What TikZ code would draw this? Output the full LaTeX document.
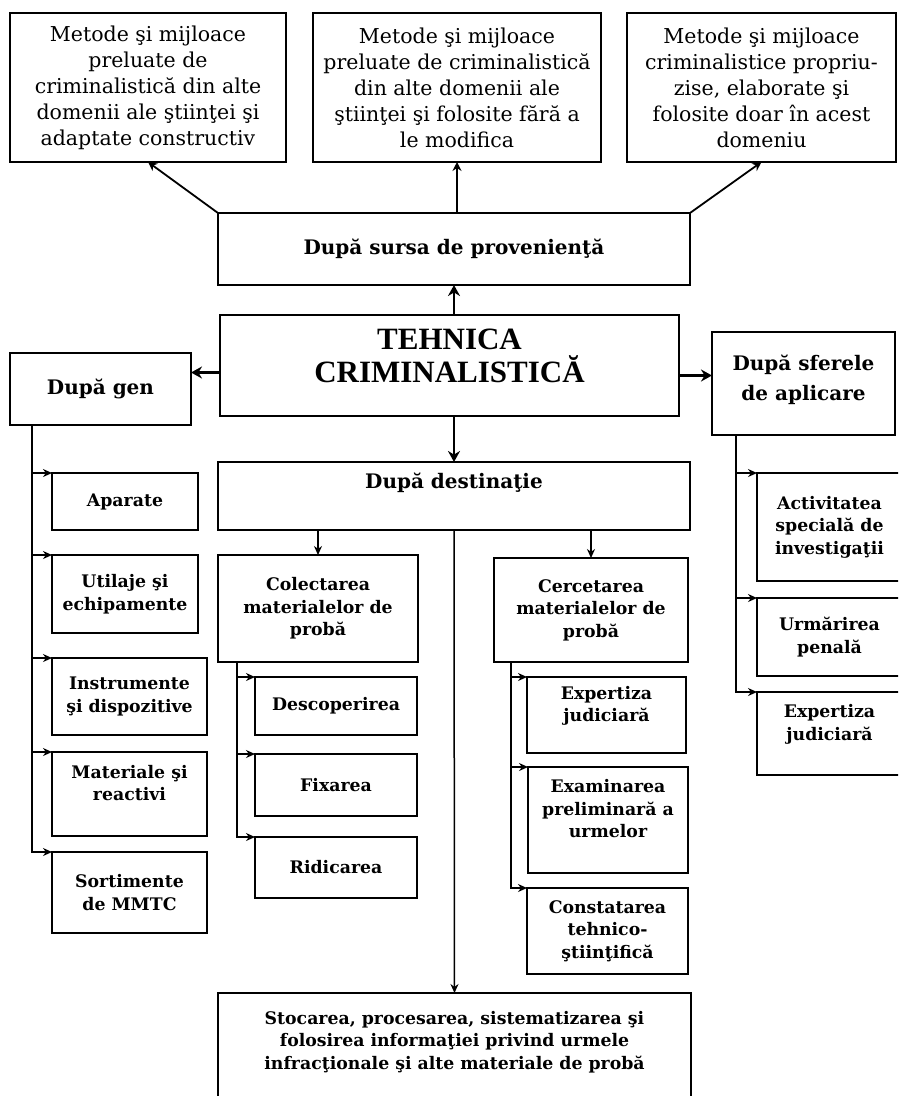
\documentclass[tikz,border=0pt]{standalone}
\usepackage{fontspec}
\setmainfont{DejaVu Serif}
\newfontfamily\titlefont{Liberation Serif}
\usetikzlibrary{arrows.meta}

\tikzset{
    box/.style={draw, line width=1.5pt, anchor=north west, align=center, inner sep=2pt, outer sep=0pt},
    topbox/.style={box, font=\fontsize{20.5}{26}\selectfont},
    subbox/.style={box, font=\bfseries\fontsize{20}{30}\selectfont},
    leafbox/.style={box, font=\bfseries\fontsize{17.3}{22.5}\selectfont},
    arr/.style={line width=1.5pt, -{Stealth[length=9pt,width=8pt]}},
    toparr/.style={line width=1.8pt, -{Stealth[length=9pt,width=9pt]}},
    bigarr/.style={line width=2.4pt, -{Stealth[length=11pt,width=12pt]}}
}

\begin{document}
\begin{tikzpicture}[x=1pt,y=1pt]
        \useasboundingbox (0,0) rectangle (898,-1096);
        \clip (0,0) rectangle (898,-1096);
        \node[topbox, minimum width=276pt, minimum height=149pt] (srcA) at (10,-13)
            {Metode şi mijloace\\preluate de\\criminalistică din alte\\domenii ale ştiinţei şi\\adaptate constructiv};
        \node[topbox, minimum width=288pt, minimum height=149pt] (srcB) at (313,-13)
            {Metode şi mijloace\\preluate de criminalistică\\din alte domenii ale\\ştiinţei şi folosite fără a\\le modifica};
        \node[topbox, minimum width=269pt, minimum height=149pt] (srcC) at (627,-13)
            {Metode şi mijloace\\criminalistice propriu-\\zise, elaborate şi\\folosite doar în acest\\domeniu};
        \node[subbox, minimum width=472pt, minimum height=72pt] (sursa) at (218,-213) {După sursa de provenienţă};
        \node[box, minimum width=459pt, minimum height=101pt, font=\titlefont\bfseries\fontsize{31}{33}\selectfont] (main) at (220,-315)
            {TEHNICA\\CRIMINALISTICĂ\\[-14pt]~};
        \node[subbox, minimum width=181pt, minimum height=72pt] (gen) at (10,-353) {După gen};
        \node[subbox, minimum width=183pt, minimum height=103pt] (sfer) at (712,-332) {După sferele\\de aplicare\\[-18pt]~};
        \node[subbox, minimum width=472pt, minimum height=68pt] (dest) at (218,-462) {După destinaţie\\~};

        \node[leafbox, minimum width=146pt, minimum height=57pt] (apa) at (52,-473) {Aparate};
        \node[leafbox, minimum width=146pt, minimum height=78pt] (uti) at (52,-555) {Utilaje şi\\echipamente};
        \node[leafbox, minimum width=155pt, minimum height=77pt] (ins) at (52,-658) {Instrumente\\şi dispozitive};
        \node[leafbox, minimum width=155pt, minimum height=84pt] (mat) at (52,-752) {Materiale şi\\reactivi\\~};
        \node[leafbox, minimum width=155pt, minimum height=81pt] (sor) at (52,-852) {Sortimente\\de MMTC};

        \node[leafbox, minimum width=200pt, minimum height=107pt] (col) at (218,-555) {Colectarea\\materialelor de\\probă};
        \node[leafbox, minimum width=162pt, minimum height=58pt] (desc) at (255,-677) {Descoperirea};
        \node[leafbox, minimum width=162pt, minimum height=62pt] (fix) at (255,-754) {Fixarea};
        \node[leafbox, minimum width=162pt, minimum height=61pt] (rid) at (255,-837) {Ridicarea};

        \node[leafbox, minimum width=194pt, minimum height=104pt] (cer) at (494,-558) {Cercetarea\\materialelor de\\probă};
        \node[leafbox, minimum width=159pt, minimum height=76pt] (expj) at (527,-677) {Expertiza\\judiciară\\~};
        \node[leafbox, minimum width=160pt, minimum height=106pt] (exam) at (528,-767) {Examinarea\\preliminară a\\urmelor\\~};
        \node[leafbox, minimum width=161pt, minimum height=86pt] (cons) at (527,-888) {Constatarea\\tehnico-\\ştiinţifică};

        \node[leafbox, minimum width=145pt, minimum height=108pt] (act) at (757,-473) {Activitatea\\specială de\\investigaţii};
        \node[leafbox, minimum width=145pt, minimum height=78pt] (urm) at (757,-598) {Urmărirea\\penală};
        \node[leafbox, minimum width=145pt, minimum height=83pt] (expu) at (757,-692) {Expertiza\\judiciară\\~};

        \node[leafbox, minimum width=473pt, minimum height=117pt] (stoc) at (218,-993)
            {Stocarea, procesarea, sistematizarea şi\\folosirea informaţiei privind urmele\\infracţionale şi alte materiale de probă\\~};

        \draw[bigarr] (main.north -| sursa.south) -- (sursa.south);
        \draw[bigarr] (main.south -| dest.north) -- (dest.north);
        \draw[bigarr] ([yshift=-7pt]main.west) -- ([yshift=-7pt]main.west -| gen.east);
        \draw[bigarr] ([yshift=-10pt]main.east) -- ([yshift=-10pt]main.east -| sfer.west);
        \draw[toparr] (sursa.north west) -- (srcA.south);
        \draw[toparr] (sursa.north -| srcB.south) -- (srcB.south);
        \draw[toparr] (sursa.north east) -- (srcC.south);
        \draw[arr] (col.north |- dest.south) -- (col.north);
        \draw[arr] (cer.north |- dest.south) -- (cer.north);
        \draw[arr] (dest.south) -- (stoc.north);
        \foreach \n in {apa,uti,ins,mat,sor}
            \draw[arr] ([xshift=22pt]gen.south west) |- (\n.north west);
        \foreach \n in {desc,fix,rid}
            \draw[arr] ([xshift=19pt]col.south west) |- (\n.north west);
        \foreach \n in {expj,exam,cons}
            \draw[arr] ([xshift=17pt]cer.south west) |- (\n.north west);
        \foreach \n in {act,urm,expu}
            \draw[arr] ([xshift=24pt]sfer.south west) |- (\n.north west);
    \end{tikzpicture}
\end{document}
